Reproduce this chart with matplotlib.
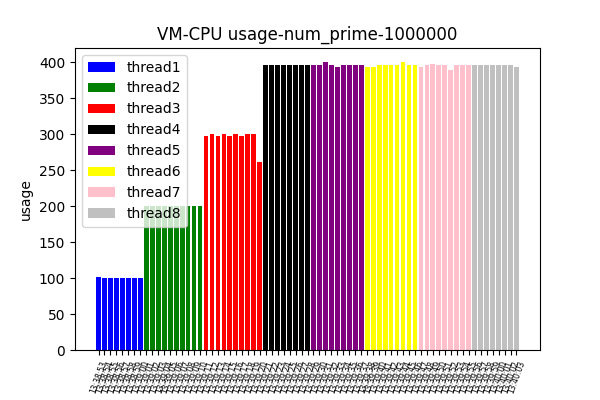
import numpy as np
import matplotlib
matplotlib.use('Agg')
import matplotlib.pyplot as plt

# CPU usage per sample, grouped by thread count
thread1 = [102, 100, 100, 100, 100, 100, 100, 100]
thread2 = [200, 200, 200, 200, 200, 200, 200, 200, 200, 200]
thread3 = [298, 301, 298, 300, 298, 300, 298, 300, 300, 262]
thread4 = [397, 396, 397, 396, 397, 396, 396, 397]
thread5 = [396, 397, 400, 396, 394, 396, 397, 396, 396]
thread6 = [393, 393, 397, 396, 396, 397, 400, 396, 396]
thread7 = [394, 397, 398, 397, 396, 390, 397, 397, 396]
thread8 = [396, 396, 397, 396, 397, 396, 396, 394]

series = [thread1, thread2, thread3, thread4, thread5, thread6, thread7, thread8]
names = ['thread1', 'thread2', 'thread3', 'thread4',
         'thread5', 'thread6', 'thread7', 'thread8']
colors = ['blue', 'green', 'red', 'black', 'purple', 'yellow', 'pink', 'silver']

times = ['13:38:53', '13:38:54', '13:38:55', '13:38:56', '13:38:57', '13:38:58',
         '13:38:59', '13:39:00', '13:39:01', '13:39:02', '13:39:03', '13:39:04',
         '13:39:05', '13:39:06', '13:39:07', '13:39:08', '13:39:09', '13:39:10',
         '13:39:11', '13:39:12', '13:39:13', '13:39:14', '13:39:15', '13:39:16',
         '13:39:17', '13:39:18', '13:39:19', '13:39:20', '13:39:21', '13:39:22',
         '13:39:23', '13:39:24', '13:39:25', '13:39:26', '13:39:27', '13:39:28',
         '13:39:29', '13:39:30', '13:39:31', '13:39:32', '13:39:33', '13:39:34',
         '13:39:35', '13:39:36', '13:39:37', '13:39:38', '13:39:39', '13:39:40',
         '13:39:41', '13:39:42', '13:39:43', '13:39:44', '13:39:45', '13:39:46',
         '13:39:47', '13:39:48', '13:39:49', '13:39:50', '13:39:51', '13:39:52',
         '13:39:53', '13:39:54', '13:39:55', '13:39:56', '13:39:57', '13:39:58',
         '13:39:59', '13:40:00', '13:40:01', '13:40:02', '13:40:03']

plt.figure(figsize=(6, 4), dpi=100)

start = 0
for vals, name, c in zip(series, names, colors):
    x = np.arange(start, start + len(vals))
    plt.bar(x, vals, color=c, label=name)
    start += len(vals)

plt.xticks(np.arange(len(times)), times, rotation=70, fontsize=5.5)
plt.ylabel('usage')
plt.title('VM-CPU usage-num_prime-1000000')
plt.legend(loc='upper left')

plt.subplots_adjust(bottom=0.125)

plt.savefig('out.png')
plt.close()
